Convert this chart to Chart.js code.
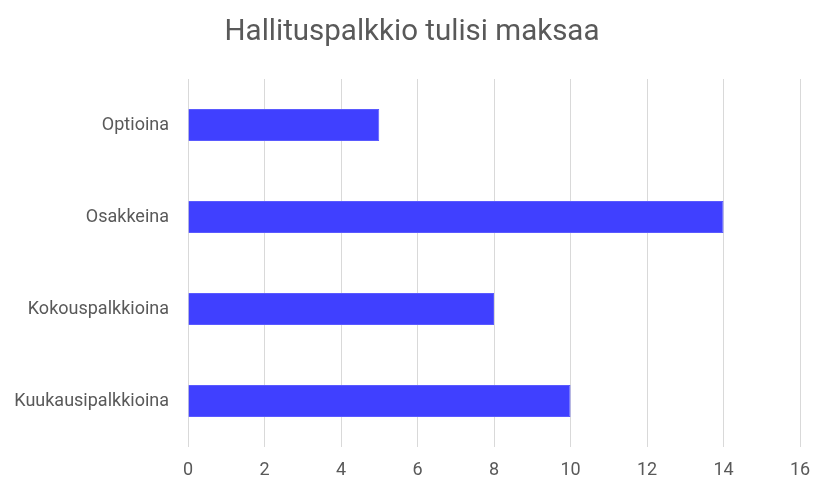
<!DOCTYPE html>
<html>
<head>
<meta charset="utf-8">
<script src="https://cdn.jsdelivr.net/npm/chart.js@4/dist/chart.umd.min.js"></script>
<style>
html,body{margin:0;padding:0;background:#fff;}
#wrap{width:824px;height:491px;}
</style>
</head>
<body>
<div id="wrap"><canvas id="c" width="824" height="491"></canvas></div>
<script>
const chartTitle = "Hallituspalkkio tulisi maksaa";
const categories = ["Optioina", "Osakkeina", "Kokouspalkkioina", "Kuukausipalkkioina"];
const values = [5, 14, 8, 10];
const xMin = 0, xMax = 16, xStep = 2;

const FONT = "Roboto, 'Open Sans', sans-serif";
const TEXT = "#595959";

new Chart(document.getElementById('c'), {
  type: 'bar',
  data: {
    labels: categories,
    datasets: [{
      data: values,
      backgroundColor: '#4040FF',
      borderColor: '#5a5aff',
      borderWidth: 1,
      categoryPercentage: 1,
      barPercentage: 0.35
    }]
  },
  options: {
    indexAxis: 'y',
    responsive: false,
    animation: false,
    layout: { padding: 0 },
    plugins: {
      legend: { display: false },
      tooltip: { enabled: false },
      title: {
        display: true,
        text: chartTitle,
        color: TEXT,
        font: { family: FONT, size: 29.5, weight: 'normal' },
        padding: { top: 15, bottom: 28.6 }
      }
    },
    scales: {
      x: {
        min: xMin, max: xMax,
        ticks: { stepSize: xStep, color: TEXT, font: { family: FONT, size: 18 }, padding: 13 },
        grid: { color: '#d9d9d9', lineWidth: 1, drawTicks: false },
        border: { display: false },
        afterFit: s => { s.height = 44; }
      },
      y: {
        ticks: { color: TEXT, font: { family: FONT, size: 18 }, padding: 11 },
        grid: { display: false },
        border: { display: false },
        afterFit: s => { s.width = 188; }
      },
      yRight: {
        type: 'category',
        position: 'right',
        display: true,
        ticks: { display: false },
        grid: { display: false, drawTicks: false },
        border: { display: false },
        afterFit: s => { s.width = 24; }
      }
    }
  }
});
</script>
</body>
</html>
